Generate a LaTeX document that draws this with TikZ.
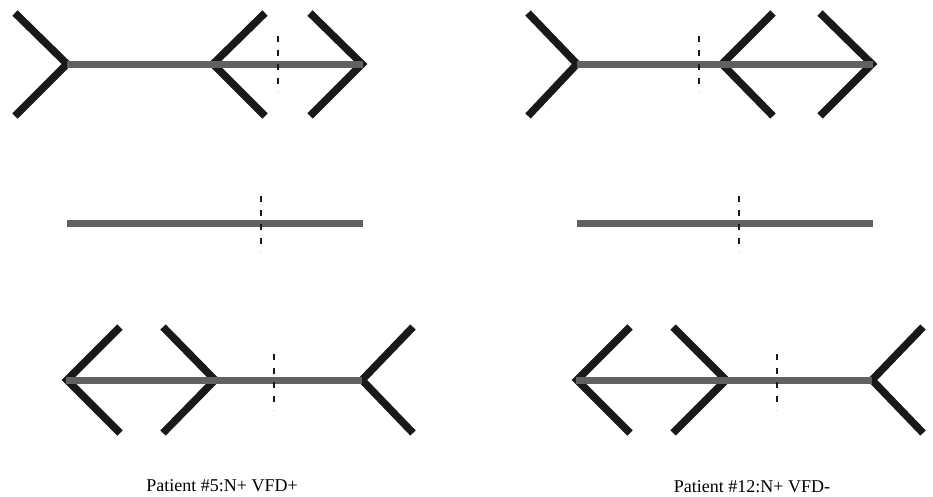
\documentclass[tikz,border=0pt]{standalone}
\usepackage{fontspec}
\setmainfont{Liberation Serif}
\begin{document}
\begin{tikzpicture}[x=1pt,y=-1pt,
  finline/.style={line width=7.5pt,black!90,line join=miter,line cap=butt},
  shaftline/.style={line width=7pt,black!62,line cap=butt},
  markline/.style={line width=2.8pt,black!90,dash pattern=on 6pt off 8pt},
  caption/.style={font=\fontsize{18}{20}\selectfont,inner sep=0pt}]
\useasboundingbox (0,0) rectangle (933,496);
% ---------- top left ----------
\draw[finline] (15,13) -- (67,64) -- (15,116);
\draw[finline] (265,13) -- (213,64) -- (265,116);
\draw[finline] (310,13) -- (362,64) -- (310,116);
\draw[shaftline] (67,64) -- (363,64);
\draw[markline] (278,36) -- (278,92);
% ---------- top right ----------
\draw[finline] (528,13) -- (577,64) -- (528,116);
\draw[finline] (773,13) -- (722,64) -- (773,116);
\draw[finline] (820,13) -- (872,64) -- (820,116);
\draw[shaftline] (577,64) -- (873,64);
\draw[markline] (699,36) -- (699,92);
% ---------- middle ----------
\draw[shaftline] (67,223) -- (363,223);
\draw[markline] (261,196) -- (261,252);
\draw[shaftline] (577,223) -- (873,223);
\draw[markline] (739,196) -- (739,252);
% ---------- bottom left ----------
\draw[finline] (120,327) -- (67,380) -- (120,433);
\draw[finline] (163,327) -- (215,380) -- (163,433);
\draw[finline] (413,327) -- (362,380) -- (413,433);
\draw[shaftline] (66,380) -- (362,380);
\draw[markline] (274,354) -- (274,410);
% ---------- bottom right ----------
\draw[finline] (630,327) -- (577,380) -- (630,433);
\draw[finline] (673,327) -- (726,380) -- (673,433);
\draw[finline] (923,327) -- (872,380) -- (923,433);
\draw[shaftline] (576,380) -- (872,380);
\draw[markline] (777,354) -- (777,410);
% ---------- captions ----------
\node[caption] (capA) at (222,486) {Patient \#5:N+ VFD+};
\node[caption] (capB) at (752,487) {Patient \#12:N+ VFD-};
\end{tikzpicture}
\end{document}
